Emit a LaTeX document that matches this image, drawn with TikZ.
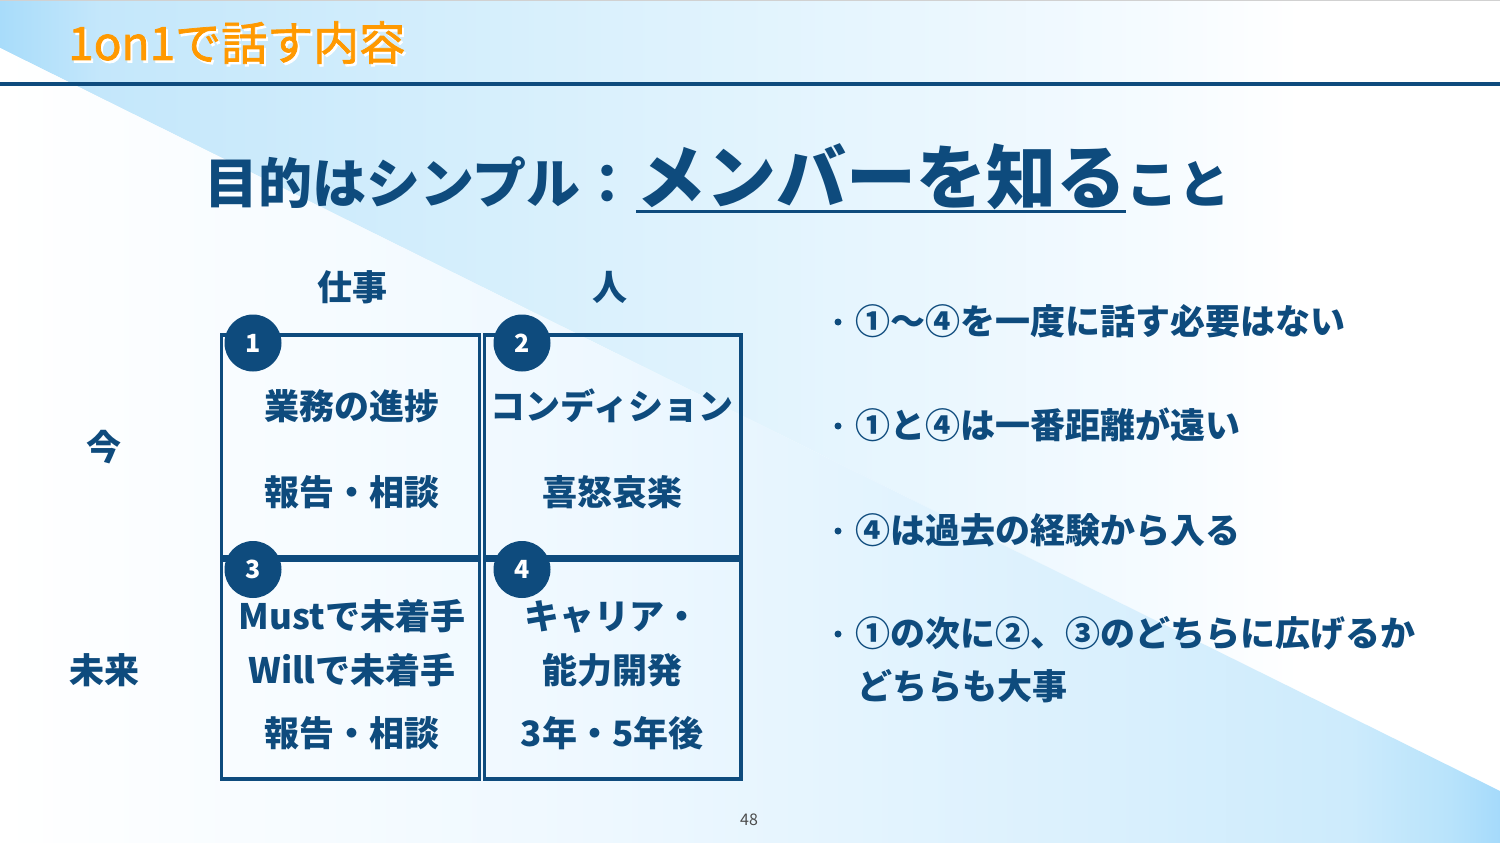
\documentclass[tikz,border=0pt]{standalone}
\usepackage{fontspec}
\setmainfont{Noto Sans CJK JP}
\newfontfamily\ttlfamily{Noto Sans CJK JP}[FakeBold=1.6]
\definecolor{navy}{RGB}{14,75,125}
\definecolor{ttlorange}{RGB}{255,153,0}
\definecolor{uA}{RGB}{168,220,250}
\definecolor{uB}{RGB}{196,231,251}
\definecolor{uC}{RGB}{214,239,252}
\definecolor{uD}{RGB}{232,246,254}
\definecolor{uE}{RGB}{245,251,255}
\definecolor{lA}{RGB}{238,248,255}
\definecolor{lB}{RGB}{218,240,253}
\definecolor{lC}{RGB}{205,235,252}
\definecolor{lD}{RGB}{184,227,251}
\definecolor{lE}{RGB}{165,218,251}
\pgfdeclarehorizontalshading{upbg}{100bp}{color(0bp)=(uA); color(25bp)=(uA); color(28.33bp)=(uB); color(41.67bp)=(uC); color(55bp)=(uD); color(63.33bp)=(uE); color(68.33bp)=(white); color(100bp)=(white)}
\pgfdeclarehorizontalshading{lowbg}{100bp}{color(0bp)=(white); color(25bp)=(white); color(45bp)=(lA); color(61.67bp)=(lB); color(70bp)=(lC); color(73.33bp)=(lD); color(75bp)=(lE); color(100bp)=(lE)}
\begin{document}
\begin{tikzpicture}[x=1pt,y=-1pt,
  txt/.style={inner sep=0pt, text=navy, anchor=base, font=\fontsize{35}{42}\selectfont\bfseries},
  btxt/.style={inner sep=0pt, text=navy, anchor=base west, font=\fontsize{35}{42}\selectfont\bfseries},
  cellbox/.style={draw=navy, line width=3.5pt, inner sep=0pt},
  numc/.style={circle, fill=navy, minimum size=57pt, inner sep=0pt, text=white, font=\fontsize{25}{25}\selectfont\bfseries},
  bdot/.style={circle, fill=navy, minimum size=7pt, inner sep=0pt},
  ttl/.style={inner sep=0pt, anchor=base west, font=\ttlfamily\fontsize{46}{50}\selectfont}
]
\useasboundingbox (0,0) rectangle (1500,843);
% background
\fill[white] (0,0) rectangle (1500,843);
\shade[shading=upbg] (0,0) -- (1500,0) -- (1500,791) -- (0,48) -- cycle;
\shade[shading=lowbg] (0,48) -- (1500,791) -- (1500,843) -- (0,843) -- cycle;
\draw[black!18, line width=1.5pt] (0,0.75) -- (1500,0.75);
% title
\node[ttl, text=white] (titleshadow) at (70,62.5) {1on1で話す内容};
\node[ttl, text=ttlorange] (title) at (68,60) {1on1で話す内容};
\draw[navy, line width=4pt] (0,84) -- (1500,84);
% heading
\node[inner sep=0pt, anchor=base west, text=navy, font=\fontsize{54}{60}\selectfont\bfseries] (h1) at (204,203) {目的はシンプル：};
\node[inner sep=0pt, anchor=base west, text=navy, font=\fontsize{70}{76}\selectfont\bfseries] (h2) at (636,203) {メンバーを知る};
\node[inner sep=0pt, anchor=base west, text=navy, font=\fontsize{52}{58}\selectfont\bfseries] (h3) at (h2.base east) {こと};
\draw[navy, line width=3pt] ([yshift=-8pt]h2.base west) -- ([yshift=-8pt]h2.base east);
% headers
\node[txt] (hwork) at (352,300) {仕事};
\node[txt] (hpeople) at (610,300) {人};
\node[txt] (rnow) at (104,460) {今};
\node[txt] (rfuture) at (104,683) {未来};
% cells
\node[cellbox, minimum width=258pt, minimum height=222pt] (c1) at (350.5,446) {};
\node[cellbox, minimum width=256.5pt, minimum height=222pt] (c2) at (612.75,446) {};
\node[cellbox, minimum width=258pt, minimum height=219pt] (c3) at (350.5,669.5) {};
\node[cellbox, minimum width=256.5pt, minimum height=219pt] (c4) at (612.75,669.5) {};
\node[numc] (n1) at (253,343) {1};
\node[numc] (n2) at (522,343) {2};
\node[numc] (n3) at (253,569.5) {3};
\node[numc] (n4) at (522,569.5) {4};
% cell texts
\node[txt] (t1a) at (352,419) {業務の進捗};
\node[txt] (t1b) at (352,505) {報告・相談};
\node[txt] (t2a) at (612,419) {コンディション};
\node[txt] (t2b) at (612,505) {喜怒哀楽};
\node[txt] (t3a) at (352,629) {Mustで未着手};
\node[txt] (t3b) at (352,683) {Willで未着手};
\node[txt] (t3c) at (352,746) {報告・相談};
\node[txt] (t4a) at (612,629) {キャリア・};
\node[txt] (t4b) at (612,683) {能力開発};
\node[txt] (t4c) at (612,746) {3年・5年後};
% bullets
\node[bdot] (d1) at (838,322) {};
\node[bdot] (d2) at (838,426) {};
\node[bdot] (d3) at (838,531) {};
\node[bdot] (d4) at (838,634) {};
\node[btxt] (b1) at (855,334) {①〜④を一度に話す必要はない};
\node[btxt] (b2) at (855,438) {①と④は一番距離が遠い};
\node[btxt] (b3) at (855,543) {④は過去の経験から入る};
\node[btxt] (b4) at (855,646) {①の次に②、③のどちらに広げるか};
\node[btxt] (b4b) at (857,699) {どちらも大事};
% page number
\node[inner sep=0pt, text=black!70, font=\fontsize{16}{18}\selectfont] (pg) at (749,820) {48};
\end{tikzpicture}
\end{document}
